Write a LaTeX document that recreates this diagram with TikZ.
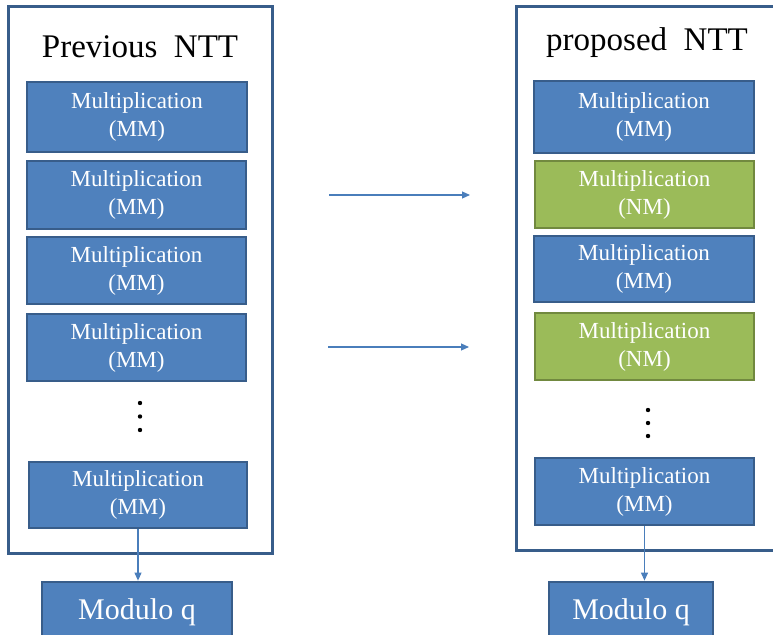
\documentclass[tikz,border=0pt]{standalone}
\usepackage{fontspec}
\setmainfont{Liberation Serif}
\usetikzlibrary{arrows.meta}
\definecolor{boxblue}{HTML}{4F81BD}
\definecolor{edgeblue}{HTML}{385D8A}
\definecolor{boxgreen}{HTML}{9BBB59}
\definecolor{edgegreen}{HTML}{71893F}
\definecolor{linkblue}{HTML}{4A7EBB}
\tikzset{
  frame/.style={draw=edgeblue, line width=3pt},
  title/.style={font=\fontsize{33}{37}\selectfont, text=black},
  mbox/.style={draw=edgeblue, fill=boxblue, line width=2.8pt, text=white,
    align=center, inner sep=0pt, font=\fontsize{23}{28}\selectfont},
  nbox/.style={mbox, draw=edgegreen, fill=boxgreen},
  modbox/.style={mbox, font=\fontsize{30}{34}\selectfont},
  link/.style={draw=linkblue, line width=1.1pt, -{Triangle[length=8pt,width=7pt]}},
  dot/.style={fill=black, circle, inner sep=0pt, minimum size=4.4pt}
}
\begin{document}
\begin{tikzpicture}[x=1pt, y=-1pt]
  \useasboundingbox (0,0) rectangle (773,634);
  \clip (0,0) rectangle (773,634);
  \fill[white] (0,0) rectangle (773,634);

  % outer frames
  \draw[frame] (8,7) rectangle (272,553);
  \draw[frame] (516,7) rectangle (800,550);

  \node[title] (tl) at (140,47) {Previous\ \ NTT};
  \node[title] (tr) at (647,43) {proposed\ \ NTT};

  % left column
  \node[mbox, minimum width=220pt, minimum height=70pt] (l1) at (137,117) {Multiplication\\(MM)};
  \node[mbox, minimum width=219pt, minimum height=68pt] (l2) at (136.5,195) {Multiplication\\(MM)};
  \node[mbox, minimum width=219pt, minimum height=67pt] (l3) at (136.5,270.5) {Multiplication\\(MM)};
  \node[mbox, minimum width=219pt, minimum height=67pt] (l4) at (136.5,347.5) {Multiplication\\(MM)};
  \node[dot] (ld1) at (140,403) {};
  \node[dot] (ld2) at (140,416.5) {};
  \node[dot] (ld3) at (140,430) {};
  \node[mbox, minimum width=218pt, minimum height=66pt] (l5) at (138,495) {Multiplication\\(MM)};
  \node[modbox, minimum width=190pt, minimum height=60pt, text depth=6pt] (ml) at (137,612) {Modulo q};

  % right column
  \node[mbox, minimum width=220pt, minimum height=72pt] (r1) at (644,117) {Multiplication\\(MM)};
  \node[nbox, minimum width=219pt, minimum height=67pt] (r2) at (644.5,194.5) {Multiplication\\(NM)};
  \node[mbox, minimum width=220pt, minimum height=66pt] (r3) at (644,269) {Multiplication\\(MM)};
  \node[nbox, minimum width=219pt, minimum height=67pt] (r4) at (644.5,346.5) {Multiplication\\(NM)};
  \node[dot] (rd1) at (648,410) {};
  \node[dot] (rd2) at (648,423) {};
  \node[dot] (rd3) at (648,436) {};
  \node[mbox, minimum width=219pt, minimum height=67pt] (r5) at (644.5,491.5) {Multiplication\\(MM)};
  \node[modbox, minimum width=164pt, minimum height=60pt, text depth=6pt] (mr) at (631,612) {Modulo q};

  % connectors: straight down from each last multiplier to its modulo stage
  \draw[link] (l5.south) -- (l5.south |- ml.north);
  \draw[link] (r5.south) -- (r5.south |- mr.north);

  \coordinate (a1s) at (329,195);
  \coordinate (a1e) at (470,195);
  \coordinate (a2s) at (328,347);
  \coordinate (a2e) at (469,347);
  \draw[link] (a1s) -- (a1e);
  \draw[link] (a2s) -- (a2e);
\end{tikzpicture}
\end{document}
